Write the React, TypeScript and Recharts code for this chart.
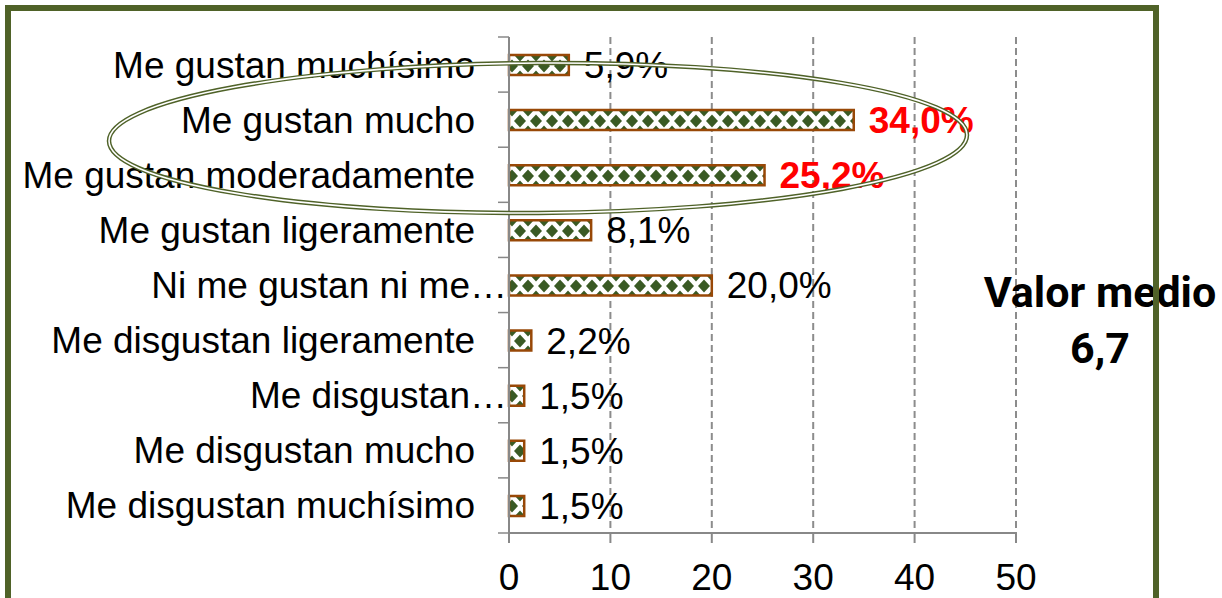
import React from 'react';
import { BarChart, Bar, XAxis, YAxis, CartesianGrid, LabelList } from 'recharts';

const categories = [
  'Me gustan muchísimo',
  'Me gustan mucho',
  'Me gustan moderadamente',
  'Me gustan ligeramente',
  'Ni me gustan ni me…',
  'Me disgustan ligeramente',
  'Me disgustan…',
  'Me disgustan mucho',
  'Me disgustan muchísimo',
];
const percentages = [5.9, 34.0, 25.2, 8.1, 20.0, 2.2, 1.5, 1.5, 1.5];
const highlighted = [1, 2];
const xTicks = [0, 10, 20, 30, 40, 50];
const meanTitle = 'Valor medio';
const meanValue = '6,7';

const data = categories.map((name, i) => ({ name, value: percentages[i] }));

const W = 1222;
const H = 598;
const PLOT_LEFT = 509;
const PLOT_RIGHT = 1016;
const PLOT_TOP = 37;
const PLOT_BOTTOM = 533;
const ROW_H = (PLOT_BOTTOM - PLOT_TOP) / categories.length;

const FONT = '"Liberation Sans", Arial, sans-serif';
const GREEN = '#4f6228';
const DIAMOND = '#3a5a24';
const BROWN = '#984807';
const AXIS = '#888888';

const fmt = (v: number) => v.toFixed(1).replace('.', ',') + '%';

const CategoryTick = (props: any) => {
  const { x, y, payload, index } = props;
  // truncated labels run up to the axis line, like the original
  const truncated = String(payload.value).endsWith('…');
  return (
    <g>
      <text x={truncated ? x + 32 : x} y={y} dy="0.35em" textAnchor="end" fontSize={37} fill="#000" fontFamily={FONT}>
        {payload.value}
      </text>
      <line x1={PLOT_LEFT - 11} x2={PLOT_LEFT} y1={y + ROW_H / 2} y2={y + ROW_H / 2} stroke={AXIS} strokeWidth={1.5} />
      {index === 0 && (
        <line x1={PLOT_LEFT - 11} x2={PLOT_LEFT} y1={y - ROW_H / 2} y2={y - ROW_H / 2} stroke={AXIS} strokeWidth={1.5} />
      )}
    </g>
  );
};

const ValueLabel = (props: any) => {
  const { x, y, width, height, value, index } = props;
  const hot = highlighted.includes(index);
  return (
    <text
      x={x + width + 15}
      y={y + height / 2}
      dy="0.35em"
      fontSize={37}
      fontFamily={FONT}
      fontWeight={hot ? 700 : 400}
      fill={hot ? '#ff0000' : '#000'}
    >
      {fmt(value)}
    </text>
  );
};

export default function App() {
  return (
    <div style={{ position: 'fixed', left: 0, top: 0, width: W, height: H, background: '#fff', overflow: 'hidden' }}>
      <BarChart
        width={W}
        height={H}
        data={data}
        layout="vertical"
        margin={{ top: PLOT_TOP, right: W - PLOT_RIGHT, bottom: 0, left: 0 }}
        style={{ fontFamily: FONT }}
      >
        <defs>
          <pattern id="diamonds" patternUnits="userSpaceOnUse" width={16} height={22}>
            <rect x={0} y={0} width={16} height={22} fill="#fff" />
            <polygon points="8,4.5 14,11 8,17.5 2,11" fill={DIAMOND} />
            <polygon points="0,-6.5 6,0 0,6.5 -6,0" fill={DIAMOND} />
            <polygon points="16,-6.5 22,0 16,6.5 10,0" fill={DIAMOND} />
            <polygon points="0,15.5 6,22 0,28.5 -6,22" fill={DIAMOND} />
            <polygon points="16,15.5 22,22 16,28.5 10,22" fill={DIAMOND} />
          </pattern>
        </defs>
        <CartesianGrid horizontal={false} stroke="#8c8c8c" strokeWidth={2} strokeDasharray="7 4" />
        <XAxis
          type="number"
          domain={[0, 50]}
          ticks={xTicks}
          height={H - PLOT_BOTTOM}
          tickSize={10}
          tickMargin={21}
          axisLine={{ stroke: AXIS, strokeWidth: 2 }}
          tickLine={{ stroke: AXIS, strokeWidth: 2 }}
          tick={{ fontSize: 37, fill: '#000' }}
        />
        <YAxis
          type="category"
          dataKey="name"
          width={PLOT_LEFT}
          interval={0}
          tickSize={12}
          tickMargin={22}
          tickLine={false}
          axisLine={{ stroke: AXIS, strokeWidth: 2 }}
          tick={<CategoryTick />}
        />
        <Bar dataKey="value" barSize={20} fill="url(#diamonds)" stroke={BROWN} strokeWidth={2.5} isAnimationActive={false}>
          <LabelList dataKey="value" content={<ValueLabel />} />
        </Bar>
      </BarChart>

      <div
        style={{
          position: 'absolute',
          left: 940,
          width: 320,
          top: 264,
          textAlign: 'center',
          fontFamily: 'Roboto, sans-serif',
          fontWeight: 700,
          fontSize: 43,
          lineHeight: '56px',
          color: '#000',
        }}
      >
        <div>{meanTitle}</div>
        <div>{meanValue}</div>
      </div>

      <svg width={W} height={H} style={{ position: 'absolute', left: 0, top: 0, pointerEvents: 'none' }}>
        <ellipse cx={538} cy={138} rx={429} ry={75} fill="none" stroke={GREEN} strokeWidth={4.5} transform="rotate(-0.4 538 138)" />
        <ellipse cx={538} cy={138} rx={429} ry={75} fill="none" stroke="#fff" strokeWidth={1.6} transform="rotate(-0.4 538 138)" />
      </svg>

      <div
        style={{
          position: 'absolute',
          left: 5,
          top: 5,
          width: 1142,
          height: 640,
          border: `6px solid ${GREEN}`,
          pointerEvents: 'none',
        }}
      />
    </div>
  );
}
